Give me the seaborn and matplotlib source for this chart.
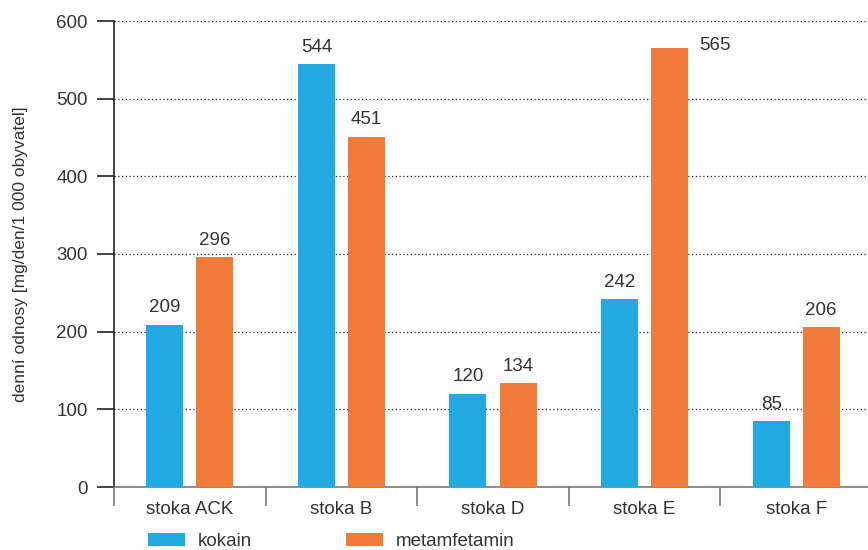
import matplotlib
matplotlib.use("Agg")
import matplotlib.pyplot as plt
import matplotlib.patches as mpatches
import seaborn as sns
import pandas as pd
import numpy as np

# Data
stoky = ["stoka ACK", "stoka B", "stoka D", "stoka E", "stoka F"]
kokain = [209, 544, 120, 242, 85]
metamfetamin = [296, 451, 134, 565, 206]
series_names = ["kokain", "metamfetamin"]
y_ticks = [0, 100, 200, 300, 400, 500, 600]
y_label = "denní odnosy [mg/den/1 000 obyvatel]"

colors = ["#22A9E1", "#F17B3B"]
text_color = "#333333"

sns.set_theme(style="white")
plt.rcParams["font.family"] = ["Liberation Sans", "DejaVu Sans"]

df = pd.DataFrame({
    "stoka": stoky * 2,
    "hodnota": kokain + metamfetamin,
    "látka": [series_names[0]] * len(stoky) + [series_names[1]] * len(stoky),
})

fig = plt.figure(figsize=(8.68, 5.5), dpi=100)
ax = fig.add_axes([114 / 868, 1 - 487 / 550, 758 / 868, 466 / 550])

sns.barplot(data=df, x="stoka", y="hodnota", hue="látka", order=stoky,
            hue_order=series_names, palette=colors, width=0.66, gap=0.26,
            saturation=1, linewidth=0, legend=False, ax=ax, zorder=3)

ax.set_xlim(-0.5, len(stoky) - 0.5)
ax.set_ylim(0, 600)
ax.set_yticks(y_ticks)
ax.set_yticklabels([str(v) for v in y_ticks], fontsize=13.5, color=text_color)
ax.tick_params(axis="y", length=12, width=1.2, color="#222222", pad=7, left=True)

# Category labels sit between boundary ticks
ax.set_xticks(np.arange(-0.5, len(stoky), 1.0))
ax.set_xticklabels([])
ax.set_xticks(np.arange(len(stoky)), minor=True)
ax.set_xticklabels(stoky, minor=True, fontsize=13.5, color=text_color)
ax.tick_params(axis="x", which="major", length=14, width=1.2, color="#777777", bottom=True)
ax.tick_params(axis="x", which="minor", length=0, pad=10)
ax.get_xticklines()[0].set_color("#222222")

ax.set_xlabel("")
ax.set_ylabel(y_label, fontsize=12.5, color=text_color, labelpad=20)

for side in ["top", "right"]:
    ax.spines[side].set_visible(False)
ax.spines["left"].set_color("#222222")
ax.spines["left"].set_linewidth(1.2)
ax.spines["bottom"].set_color("#777777")
ax.spines["bottom"].set_linewidth(1.2)

# Dotted grid
for v in y_ticks[1:]:
    ax.axhline(v, color="#222222", linestyle=(0, (1, 2)), linewidth=0.9, zorder=1)

# Value labels
for container, values, name in zip(ax.containers, [kokain, metamfetamin], series_names):
    for bar, v in zip(container, values):
        cx = bar.get_x() + bar.get_width() / 2
        if name == "metamfetamin" and v == max(values):
            ax.annotate(str(v), (bar.get_x() + bar.get_width(), v),
                        xytext=(8, 2), textcoords="offset points",
                        ha="left", va="center", fontsize=13.5, color=text_color)
        else:
            ax.annotate(str(v), (cx, v), xytext=(0, 6), textcoords="offset points",
                        ha="center", va="bottom", fontsize=13.5, color=text_color)

# Legend below the axis
handles = [mpatches.Patch(color=c, label=n, linewidth=0) for c, n in zip(colors, series_names)]
leg = fig.legend(handles=handles, loc="lower left", bbox_to_anchor=(146 / 868, -0.003),
                 ncol=2, frameon=False, fontsize=13.5, handlelength=1.97,
                 handleheight=0.7, handletextpad=0.7, columnspacing=5.0,
                 borderpad=0.1, borderaxespad=0)
for t in leg.get_texts():
    t.set_color(text_color)

fig.savefig("out.png", dpi=100)
